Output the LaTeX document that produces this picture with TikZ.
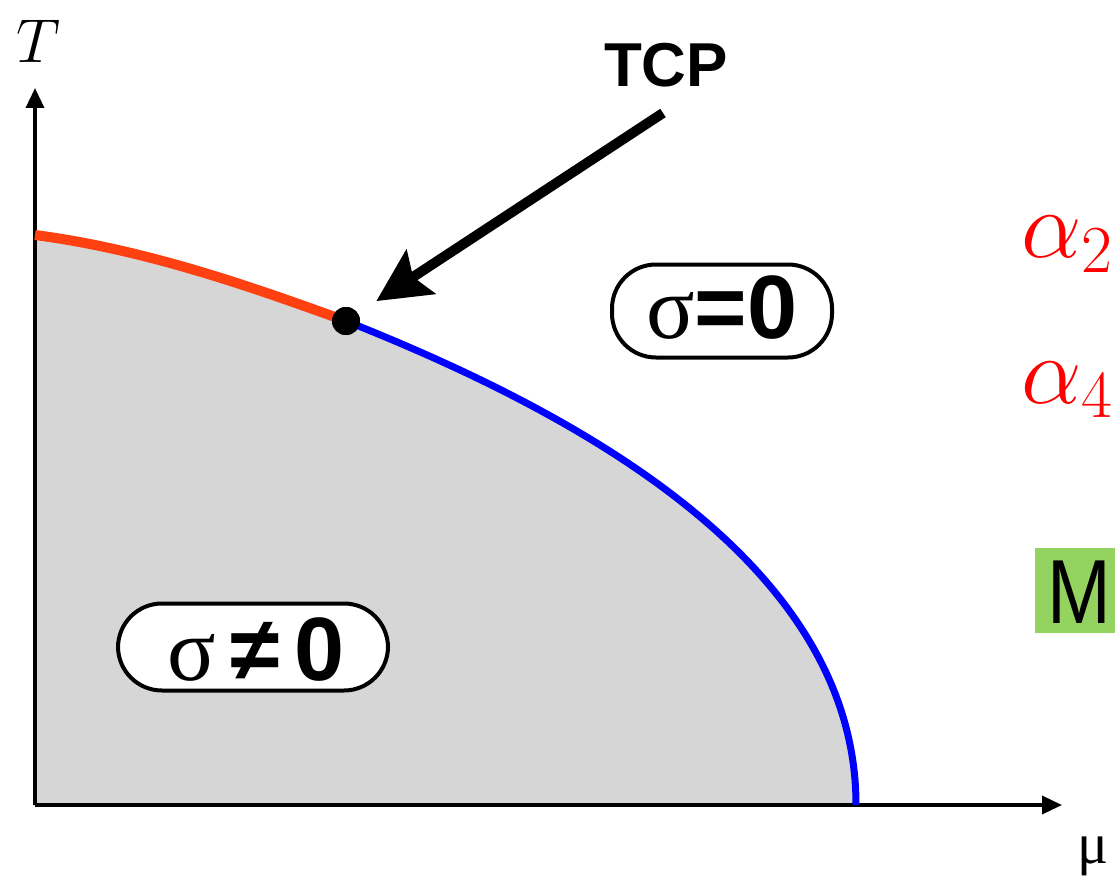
\documentclass[tikz,border=0pt]{standalone}
\usepackage{fix-cm}
\usepackage{fontspec}
\setmainfont{Liberation Serif}
\newfontfamily\hsans{Liberation Sans}
\newfontfamily\msans[FakeStretch=0.84]{Liberation Sans}
\usetikzlibrary{arrows.meta}
\definecolor{redline}{RGB}{255,64,16}
\definecolor{grayfill}{RGB}{214,214,214}
\definecolor{mgreen}{RGB}{148,211,95}
\tikzset{
  axisline/.style={line width=3.5pt,-{Triangle[length=20pt,width=18pt]}},
  pill/.style={draw=black,fill=white,line width=4pt,rounded corners=44pt,inner sep=0pt},
  bigtext/.style={font=\fontsize{90}{100}\selectfont},
}
\begin{document}
\begin{tikzpicture}[x=1pt,y=-1pt]
\clip (0,0) rectangle (1115,877);
\fill[white] (0,0) rectangle (1115,877);
% gray region
\fill[grayfill] (35,805) -- (35,235) .. controls (150,250) and (260,290) .. (346,321)
   .. controls (570,410) and (855,560) .. (855,805) -- cycle;
% axes
\coordinate (o) at (35,805);
\coordinate (ytip) at (35,88);
\coordinate (xtip) at (1062,805);
\draw[axisline] (o) -- (ytip);
\draw[axisline] (o) -- (xtip);
% curves
\coordinate (c0) at (35,235);
\coordinate (c1) at (856,805);
\node[circle,fill=black,minimum size=28pt,inner sep=0pt] (tcp) at (346,321) {};
\draw[redline,line width=10pt] (c0) .. controls (150,250) and (260,290) .. (tcp.center);
\draw[blue,line width=7pt] (tcp.center) .. controls (570,410) and (856,560) .. (c1);
\node[circle,fill=black,minimum size=28pt,inner sep=0pt] at (tcp) {};
% TCP label and arrow
\node[font=\hsans\bfseries\fontsize{62}{70}\selectfont,anchor=base] (tcplabel) at (666,87) {TCP};
\coordinate (astart) at (663,113);
\draw[line width=10pt,-{Stealth[length=53pt,width=52pt,inset=9pt]},shorten >=22pt] (astart) -- (tcp);
% boxes
\node[pill,minimum width=220pt,minimum height=93pt] (b1) at (722,311) {};
\node[bigtext,anchor=base] (b1t) at (722,338) {σ{\hsans\bfseries =0}};
\node[pill,minimum width=270pt,minimum height=87pt] (b2) at (253,647) {};
\node[bigtext,anchor=base] (b2t) at (256,680) {σ\,{\hsans\bfseries ≠\,0}};
% axis labels
\node[anchor=base west,inner sep=0pt,font=\fontsize{62}{70}\selectfont] (tl) at (16,63) {$T$};
\node[anchor=base west,inner sep=0pt,font=\fontsize{58}{64}\selectfont] (mul) at (1077,863) {μ};
% right side
\node[anchor=base west,inner sep=0pt,text=red,font=\fontsize{96}{104}\selectfont] (a2) at (1021,258) {$\alpha_2$};
\node[anchor=base west,inner sep=0pt,text=red,font=\fontsize{96}{104}\selectfont] (a4) at (1021,403) {$\alpha_4$};
\node[anchor=north west,fill=mgreen,inner xsep=12pt,inner ysep=10pt,text height=65pt,text depth=0pt,font=\msans\fontsize{91}{100}\selectfont] (m) at (1035,548) {M};
\end{tikzpicture}
\end{document}
